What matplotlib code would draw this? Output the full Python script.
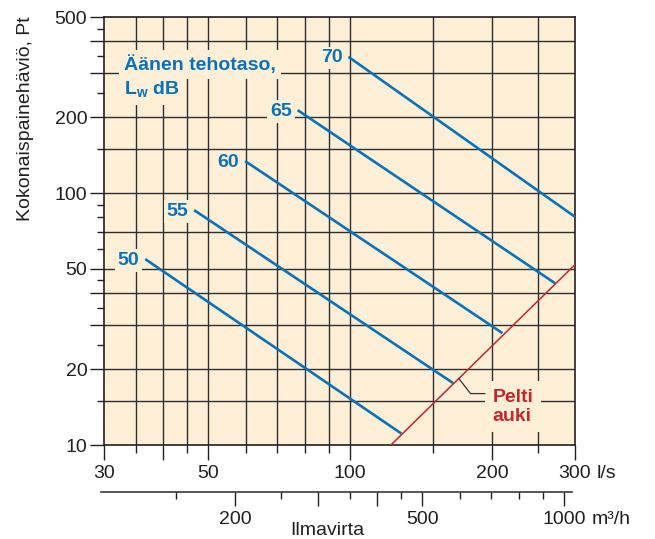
import matplotlib
matplotlib.use("Agg")
import matplotlib.pyplot as plt
import numpy as np
from matplotlib.ticker import NullFormatter

plt.rcParams["font.family"] = ["Liberation Sans", "DejaVu Sans"]
plt.rcParams["mathtext.fontset"] = "custom"
plt.rcParams["mathtext.rm"] = "Liberation Sans"
plt.rcParams["mathtext.bf"] = "Liberation Sans:bold"

# Sound power level lines, airflow q (l/s) vs total pressure drop p (Pa)
LEVELS = [50, 55, 60, 65, 70]
Q_START = [36.7, 46.6, 59.8, 77.3, 99.1]
P_START = [54.7, 85.6, 134.0, 213.5, 347.5]
Q_END = [128.4, 165.4, 210.4, 272.4, 300.0]
P_END = [11.1, 17.6, 27.8, 43.8, 80.5]

# Damper fully open
Q_OPEN = [122.0, 300.0]
P_OPEN = [10.0, 52.0]

# Axis ticks and grid
Q_MAJOR = [30, 40, 50, 100, 200, 300]
Q_LABELS = ["30", "", "50", "100", "200", "300"]
Q_MINOR = [35, 45, 60, 70, 80, 90, 150, 250]
P_MAJOR = [10, 20, 30, 40, 50, 100, 200, 300, 400, 500]
P_LABELS = ["10", "20", "", "", "50", "100", "200", "", "", "500"]
P_MINOR = [15, 25, 35, 45, 60, 70, 80, 90, 150, 250, 350, 450]
GRID_Q = [35, 40, 45, 50, 60, 70, 80, 90, 100, 150, 200, 250]
GRID_P = [15, 20, 30, 40, 50, 70, 100, 150, 200, 300, 400]

# Secondary airflow scale in m3/h
LS_TO_M3H = 3.6
M3H_MAJOR = [200, 300, 400, 500, 1000]
M3H_LABELS = ["200", "", "", "500", "1000"]
M3H_MINOR = [150, 250, 350, 450, 600, 700, 800, 900]

BG = "#feefd6"
BLUE = "#0a72b9"
RED = "#c1272d"
INK = "#231f20"
GRID_C = "#2e2e2e"

W, H = 655, 539
fig = plt.figure(figsize=(W / 100, H / 100), dpi=100)
ax = fig.add_axes([104 / W, 1 - 445 / H, 471 / W, 428 / H])
ax.set_xscale("log")
ax.set_yscale("log")
ax.set_xlim(30, 300)
ax.set_ylim(10, 500)
ax.set_facecolor(BG)

for q in GRID_Q:
    ax.axvline(q, color=GRID_C, lw=1.0, zorder=1)
for p in GRID_P:
    ax.axhline(p, color=GRID_C, lw=1.0, zorder=1)

ax.set_xticks(Q_MAJOR, labels=Q_LABELS)
ax.set_xticks(Q_MINOR, minor=True)
ax.xaxis.set_minor_formatter(NullFormatter())
ax.set_yticks(P_MAJOR, labels=P_LABELS)
ax.set_yticks(P_MINOR, minor=True)
ax.yaxis.set_minor_formatter(NullFormatter())

ax.tick_params(axis="x", which="major", length=11, width=1.0, color=INK,
               pad=3.5, labelsize=14, labelcolor=INK)
ax.tick_params(axis="x", which="minor", length=5.5, width=1.0, color=INK)
ax.tick_params(axis="y", which="major", length=10, width=1.0, color=INK,
               pad=2, labelsize=14, labelcolor=INK)
ax.tick_params(axis="y", which="minor", length=5, width=1.0, color=INK)
for s in ax.spines.values():
    s.set_color(INK)
    s.set_linewidth(1.2)

# level lines with their labels
label_box = dict(boxstyle="square,pad=0.15", fc=BG, ec="none")
for lvl, q0, p0, q1, p1 in zip(LEVELS, Q_START, P_START, Q_END, P_END):
    ax.plot([q0, q1], [p0, p1], color=BLUE, lw=1.9, solid_capstyle="butt", zorder=4)
    ax.annotate(str(lvl), xy=(q0, p0), xytext=(-4.2, -0.8), textcoords="offset points",
                ha="right", va="center", fontsize=14, fontweight="bold",
                color=BLUE, bbox=label_box, zorder=3)

ax.plot(Q_OPEN, P_OPEN, color=RED, lw=1.1, zorder=4)

# leader from the open-damper line to its label
q_lead = 170.0
k = np.log(P_OPEN[1] / P_OPEN[0]) / np.log(Q_OPEN[1] / Q_OPEN[0])
p_lead = P_OPEN[0] * (q_lead / Q_OPEN[0]) ** k
lead_q = [q_lead, 180.0, 193.0]
lead_p = [p_lead, 16.0, 16.0]
ax.plot(lead_q, lead_p, color="#333333", lw=0.9, zorder=4)
ax.annotate("Pelti\nauki", xy=(lead_q[-1], lead_p[-1]), xytext=(5.8, 3.1),
            textcoords="offset points", ha="left", va="top", fontsize=14,
            fontweight="bold", color=RED, linespacing=1.1,
            bbox=dict(boxstyle="square,pad=0.4", fc=BG, ec="none"), zorder=3)

title_box = dict(boxstyle="square,pad=0.25", fc=BG, ec="none")
ax.text((124 - 104) / 471, (445 - 70) / 428, "Äänen tehotaso,", transform=ax.transAxes,
        ha="left", va="baseline", fontsize=14, fontweight="bold", color=BLUE,
        bbox=title_box, zorder=3)
ax.text((124 - 104) / 471, (445 - 94.5) / 428, r"L$_\mathbf{w}$ dB", transform=ax.transAxes,
        ha="left", va="baseline", fontsize=14, fontweight="bold", color=BLUE,
        bbox=title_box, zorder=3)

ax.annotate("l/s", xy=(1, 0), xycoords=ax.xaxis.get_major_ticks()[-1].label1,
            xytext=(3.9, 0), textcoords="offset points", ha="left", va="bottom",
            fontsize=14, color=INK)

# m3/h scale under the main axis
ax2 = fig.add_axes([109 / W, 1 - 491.7 / H, 471 / W, 0.001])
ax2.set_xscale("log")
lo, hi = 30 * LS_TO_M3H, 300 * LS_TO_M3H
ax2.set_xlim(lo, hi)
ax2.patch.set_visible(False)
for side in ["top", "left", "right"]:
    ax2.spines[side].set_visible(False)
ax2.spines["bottom"].set_color("#3a3a3a")
ax2.spines["bottom"].set_linewidth(1.2)
# scale line sits a little left of the tick positions
shift = (hi / lo) ** (-8 / 471)
ax2.spines["bottom"].set_bounds(lo * shift, hi * shift)
ax2.set_yticks([])
ax2.set_xticks(M3H_MAJOR, labels=M3H_LABELS)
ax2.set_xticks(M3H_MINOR, minor=True)
ax2.xaxis.set_minor_formatter(NullFormatter())
ax2.tick_params(axis="x", which="major", length=10, width=1.0, color=INK,
                pad=4, labelsize=14, labelcolor=INK)
ax2.tick_params(axis="x", which="minor", length=5.3, width=1.0, color=INK)
ax2.annotate("m³/h", xy=(1, 0), xycoords=ax2.xaxis.get_major_ticks()[-1].label1,
             xytext=(3.9, 0), textcoords="offset points", ha="left", va="bottom",
             fontsize=14, color=INK)

fig.text(26 / W, 1 - 118.5 / H, "Kokonaispainehäviö, Pt", rotation=90,
         ha="center", va="center", fontsize=14, color=INK)
fig.text(290 / W, 1 - 535 / H, "Ilmavirta", ha="left", va="baseline",
         fontsize=14, color=INK)

fig.savefig("out.png", dpi=100, facecolor="white")
